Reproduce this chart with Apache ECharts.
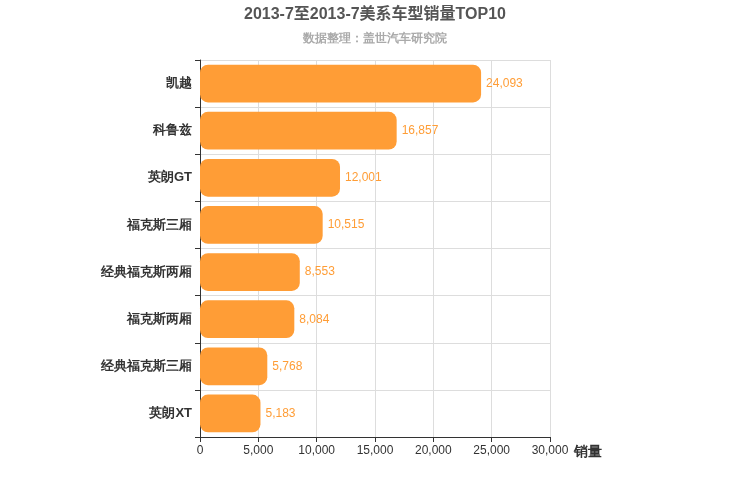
<!DOCTYPE html>
<html><head><meta charset="utf-8">
<script src="https://cdn.jsdelivr.net/npm/echarts@6/dist/echarts.min.js"></script>
<style>html,body{margin:0;padding:0}#c{width:750px;height:500px}</style>
</head><body><div id="c"></div>
<script>
const categories = ['凯越','科鲁兹','英朗GT','福克斯三厢','经典福克斯两厢','福克斯两厢','经典福克斯三厢','英朗XT'];
const sales = [24093,16857,12001,10515,8553,8084,5768,5183];
const chart = echarts.init(document.getElementById('c'));
chart.setOption({
  animation:false,
  title:{text:'2013-7至2013-7美系车型销量TOP10',subtext:'数据整理：盖世汽车研究院',left:'center',top:2,
    textStyle:{fontSize:16,fontWeight:'bold',color:'#555',fontFamily:'Arial, Noto Sans CJK SC'},
    subtextStyle:{fontSize:12,color:'#aaa',fontWeight:'bold'},itemGap:10},
  grid:{left:200,right:200,top:60,bottom:63},
  xAxis:{type:'value',min:0,max:30000,interval:5000,name:'销量',nameGap:15,
    nameTextStyle:{fontSize:14,fontWeight:'bold',color:'#333',verticalAlign:'top',padding:[8,0,0,0]},
    axisLine:{show:true,lineStyle:{color:'#333'}},axisTick:{show:true},
    axisLabel:{color:'#333',fontSize:12,formatter:v=>v.toLocaleString('en-US')},
    splitLine:{lineStyle:{color:'#ddd'}}},
  yAxis:{type:'category',data:categories,inverse:true,
    axisLine:{lineStyle:{color:'#333'}},axisTick:{show:true},
    axisLabel:{color:'#333',fontSize:13,fontWeight:'bold'},
    splitLine:{show:true,lineStyle:{color:'#ddd'}}},
  series:[{type:'bar',data:sales,barWidth:'80%',
    itemStyle:{color:'#ff9d36',borderRadius:8},
    label:{show:true,position:'right',color:'#ff9d36',fontSize:12,
      formatter:p=>p.value.toLocaleString('en-US')}}]
});
</script></body></html>
